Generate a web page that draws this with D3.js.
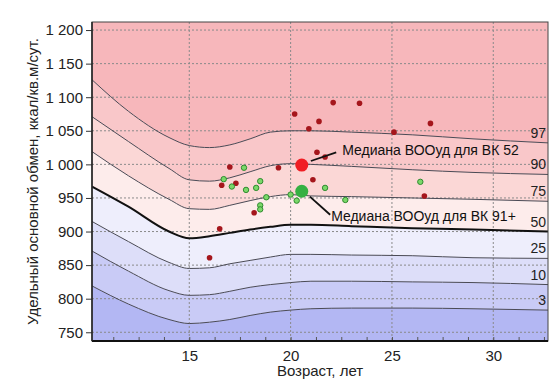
<!DOCTYPE html>
<html>
<head>
<meta charset="utf-8">
<script src="https://cdn.jsdelivr.net/npm/d3@7"></script>
<style>
  body { margin: 0; background: #fff; }
  svg { display: block; font-family: Arial, "Liberation Sans", sans-serif; }
</style>
</head>
<body>
<div id="chart"></div>
<script>
const width = 558;
const height = 392;
const margin = {top: 22, right: 10, bottom: 51, left: 92};

// ──── Data ────
// percentile curves
const ages = [10.2, 12, 14, 15, 16, 17, 18, 19, 20, 21, 23, 26, 29, 32.7];
const p3  = [819, 792, 769, 763, 765, 769, 775, 780, 783, 785, 786, 786, 785, 783];
const p10 = [871, 841, 812, 805, 806, 811, 817, 821, 824, 826, 826, 825, 824, 821];
const p25 = [915, 885, 854, 845, 846, 852, 857, 862, 866, 866, 865, 864, 861, 860];
const p50 = [967, 937, 900, 890, 893, 898, 903, 907, 910, 910, 908, 905, 903, 900];
const p75 = [1019, 983, 948, 934, 933, 939, 946, 952, 955, 953, 952, 950, 948, 945];
const p90 = [1071, 1034, 994, 977, 975, 980, 989, 998, 1001, 1000, 997, 992, 988, 985];
const p97 = [1126, 1079, 1040, 1028, 1025, 1029, 1038, 1048, 1050, 1050, 1048, 1044, 1038, 1032];
const percentileNames = ["3", "10", "25", "50", "75", "90", "97"];

// group VK 52 (dark red) and VK 91+ (green)
const redAges   = [20.2, 22.1, 23.4, 21.4, 20.9, 25.1, 26.9, 21.3, 21.7, 19.4, 17.0, 21.1, 16.6, 17.3, 18.2, 16.5, 16.0, 26.6];
const redValues = [1075, 1092, 1091, 1064, 1053, 1048, 1061, 1018, 1011, 995, 996, 977, 969, 972, 928, 904, 861, 953];
const greenAges   = [17.7, 16.7, 17.1, 18.5, 18.3, 17.8, 18.8, 20.0, 20.3, 18.5, 18.5, 21.7, 22.7, 26.4];
const greenValues = [995, 978, 967, 975, 965, 962, 951, 955, 946, 939, 933, 965, 947, 974];
const medianRed = [20.55, 999];
const medianGreen = [20.55, 960];

const yTicks = [750, 800, 850, 900, 950, 1000, 1050, 1100, 1150, 1200];
const xTicks = [15, 20, 25, 30];

const annotations = [
    {text: "Медиана ВООуд для ВК 52", from: [21.0, 1005], to: [22.25, 1018], at: [22.55, 1022]},
    {text: "Медиана ВООуд для ВК 91+", from: [20.95, 952], to: [21.95, 925], at: [22.0, 923]}
];

// ──── Scales ────
const x = d3.scaleLinear().domain([10.2, 32.7]).range([margin.left, width - margin.right]);
const y = d3.scaleLinear().domain([737, 1212]).range([height - margin.bottom, margin.top]);

const curves = [p3, p10, p25, p50, p75, p90, p97];
const bandColors = ["#b3b7f3", "#c9cbf6", "#dddef9", "#eeeefc", "#fdeceb", "#fbd7d6", "#f9c7c9", "#f7b7bb"];

const svg = d3.select("#chart")
    .append("svg")
    .attr("width", width)
    .attr("height", height);

svg.append("clipPath")
    .attr("id", "plot-clip")
    .append("rect")
    .attr("x", margin.left)
    .attr("y", margin.top)
    .attr("width", width - margin.left - margin.right)
    .attr("height", height - margin.top - margin.bottom);

// ──── Bands between percentile curves ────
const lows = [ages.map(() => y.domain()[0])].concat(curves);
const highs = curves.concat([ages.map(() => y.domain()[1])]);

const area = d3.area()
    .x(d => x(d.age))
    .y0(d => y(d.lo))
    .y1(d => y(d.hi))
    .curve(d3.curveMonotoneX);

const plot = svg.append("g").attr("clip-path", "url(#plot-clip)");

plot.selectAll("path.band")
    .data(bandColors.map((c, i) => ages.map((a, j) => ({age: a, lo: lows[i][j], hi: highs[i][j]}))))
    .join("path")
    .attr("class", "band")
    .attr("fill", (d, i) => bandColors[i])
    .attr("d", area);

// grid
plot.append("g")
    .selectAll("line")
    .data(yTicks)
    .join("line")
    .attr("x1", margin.left)
    .attr("x2", width - margin.right)
    .attr("y1", d => y(d))
    .attr("y2", d => y(d))
    .attr("stroke", "#8a8a8a")
    .attr("stroke-dasharray", "2,2");

plot.append("g")
    .selectAll("line")
    .data(xTicks)
    .join("line")
    .attr("x1", d => x(d))
    .attr("x2", d => x(d))
    .attr("y1", margin.top)
    .attr("y2", height - margin.bottom)
    .attr("stroke", "#8a8a8a")
    .attr("stroke-dasharray", "2,2");

// curves
const line = d3.line()
    .x((d, i) => x(ages[i]))
    .y(d => y(d))
    .curve(d3.curveMonotoneX);

plot.selectAll("path.curve")
    .data(curves)
    .join("path")
    .attr("class", "curve")
    .attr("fill", "none")
    .attr("stroke", (d, i) => i === 3 ? "#111" : "#4a4a55")
    .attr("stroke-width", (d, i) => i === 3 ? 2 : 1)
    .attr("d", line);

// percentile labels at the right end
svg.append("g")
    .attr("text-anchor", "end")
    .attr("font-size", 14)
    .attr("fill", "#222")
    .selectAll("text")
    .data(curves)
    .join("text")
    .attr("x", width - margin.right - 2)
    .attr("y", d => y(d[d.length - 1]) - 5)
    .text((d, i) => percentileNames[i]);

// ──── Axes ────
const fmt = d3.formatLocale({decimal: ",", thousands: "\u00a0", grouping: [3], currency: ["", ""]}).format(",");

svg.append("g")
    .attr("transform", `translate(0,${height - margin.bottom})`)
    .call(d3.axisBottom(x).tickValues(d3.range(11.25, 32.7, 1.25)).tickSize(-4).tickFormat(""))
    .call(g => g.select(".domain").remove())
    .call(g => g.selectAll("line").attr("stroke", "#555"));

svg.append("g")
    .attr("transform", `translate(0,${height - margin.bottom})`)
    .call(d3.axisBottom(x).tickValues(xTicks).tickSize(0).tickPadding(9))
    .call(g => g.select(".domain").remove())
    .call(g => g.selectAll("text").attr("font-size", 15).attr("fill", "#222").attr("font-family", null));

svg.append("g")
    .attr("transform", `translate(${margin.left},0)`)
    .call(d3.axisLeft(y).tickValues(yTicks).tickFormat(fmt).tickSize(6).tickPadding(3))
    .call(g => g.select(".domain").remove())
    .call(g => g.selectAll("line").attr("stroke", "#333"))
    .call(g => g.selectAll("text").attr("font-size", 15).attr("fill", "#222").attr("font-family", null));

// frame
svg.append("rect")
    .attr("x", margin.left)
    .attr("y", margin.top)
    .attr("width", width - margin.left - margin.right)
    .attr("height", height - margin.top - margin.bottom)
    .attr("fill", "none")
    .attr("stroke", "#444")
    .attr("stroke-width", 1);

svg.append("line")
    .attr("x1", margin.left).attr("x2", width - margin.right)
    .attr("y1", height - margin.bottom).attr("y2", height - margin.bottom)
    .attr("stroke", "#111").attr("stroke-width", 2);

svg.append("line")
    .attr("x1", margin.left).attr("x2", margin.left)
    .attr("y1", margin.top).attr("y2", height - margin.bottom)
    .attr("stroke", "#222").attr("stroke-width", 1.5);

svg.append("text")
    .attr("x", (margin.left + width - margin.right) / 2)
    .attr("y", 376)
    .attr("text-anchor", "middle")
    .attr("font-size", 15)
    .attr("fill", "#222")
    .text("Возраст, лет");

svg.append("text")
    .attr("transform", `translate(38,${(margin.top + height - margin.bottom) / 2}) rotate(-90)`)
    .attr("text-anchor", "middle")
    .attr("font-size", 15)
    .attr("fill", "#222")
    .text("Удельный основной обмен, ккал/кв.м/сут.");

// ──── Points ────
svg.append("g")
    .selectAll("circle")
    .data(redAges)
    .join("circle")
    .attr("cx", d => x(d))
    .attr("cy", (d, i) => y(redValues[i]))
    .attr("r", 2.8)
    .attr("fill", "#a5161c");

svg.append("g")
    .selectAll("circle")
    .data(greenAges)
    .join("circle")
    .attr("cx", d => x(d))
    .attr("cy", (d, i) => y(greenValues[i]))
    .attr("r", 2.7)
    .attr("fill", "#7bd86a")
    .attr("stroke", "#2e8b2e")
    .attr("stroke-width", 1);

svg.append("circle")
    .attr("cx", x(medianRed[0]))
    .attr("cy", y(medianRed[1]))
    .attr("r", 6.5)
    .attr("fill", "#f01e24");

svg.append("circle")
    .attr("cx", x(medianGreen[0]))
    .attr("cy", y(medianGreen[1]))
    .attr("r", 6.5)
    .attr("fill", "#35b043");

// ──── Annotations ────
const ann = svg.append("g");

ann.selectAll("line")
    .data(annotations)
    .join("line")
    .attr("x1", d => x(d.from[0]))
    .attr("y1", d => y(d.from[1]))
    .attr("x2", d => x(d.to[0]))
    .attr("y2", d => y(d.to[1]))
    .attr("stroke", "#111")
    .attr("stroke-width", 1.8);

ann.selectAll("text")
    .data(annotations)
    .join("text")
    .attr("x", d => x(d.at[0]))
    .attr("y", d => y(d.at[1]))
    .attr("dy", "0.35em")
    .attr("font-size", 14)
    .attr("fill", "#111")
    .text(d => d.text);
</script>
</body>
</html>
